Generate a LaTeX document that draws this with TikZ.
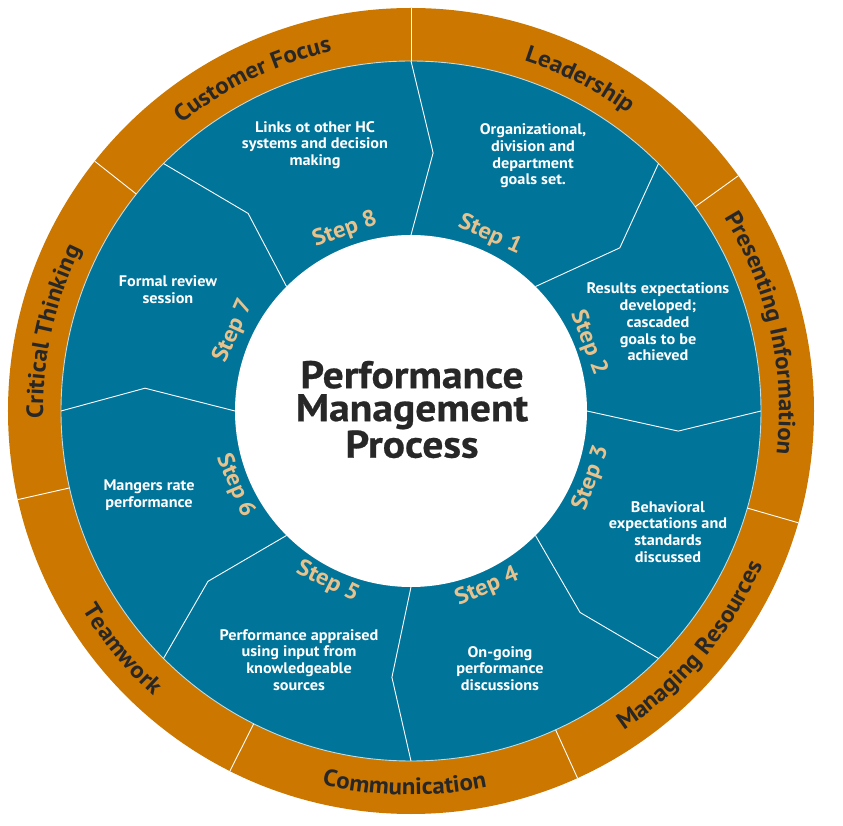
\documentclass[tikz,border=0pt]{standalone}
\usepackage{fontspec}
\setmainfont{PT Sans}[FakeStretch=1.06]
\newfontfamily\titlefont{PT Sans}[FakeStretch=1.08,BoldFeatures={FakeBold=0.6}]
\usetikzlibrary{decorations.text}
\definecolor{ringor}{HTML}{CB7700}
\definecolor{stepblue}{HTML}{007499}
\definecolor{steptan}{HTML}{E8C28C}
\definecolor{darktxt}{HTML}{272727}
\newcommand\ringfont{\bfseries\fontsize{23.5}{23.5}\selectfont}
\newcommand\toplabel[2]{\path[decorate,decoration={text along path,text align=center,text color=darktxt,text={|\ringfont|#2}}] ({#1+30}:368) arc[start angle={#1+30},end angle={#1-30},radius=368];}
\newcommand\botlabel[2]{\path[decorate,decoration={text along path,text align=center,text color=darktxt,text={|\ringfont|#2}}] ({#1-30}:384) arc[start angle={#1-30},end angle={#1+30},radius=384];}
\begin{document}
\begin{tikzpicture}[x=1pt,y=1pt,
  divline/.style={draw=white,line width=0.9pt},
  steplbl/.style={text=steptan,font=\bfseries\fontsize{23}{23}\selectfont,inner sep=0pt},
  bodytxt/.style={text=white,align=center,font=\bfseries\fontsize{15.3}{16.7}\selectfont,inner sep=0pt},
  titletxt/.style={text=darktxt,align=center,font=\titlefont\bfseries\fontsize{38.5}{33}\selectfont,inner sep=0pt}]
\useasboundingbox (-411,-415) rectangle (432,411);
% rings
\fill[ringor] (0,0) circle (403);
\fill[stepblue] (0,0) circle (350);
\draw[white!75!stepblue,line width=0.9pt] (0,0) circle (350);
\fill[white] (0,0) circle (176);
% step dividers
\draw[divline] (90:176) -- (85.1:259) -- (90:350);
\draw[divline] (45:176) -- (38:265) -- (45:350);
\draw[divline] (0:176) -- (-4.3:268) -- (0:350);
\draw[divline] (-45:176) -- (-50:263) -- (-45:350);
\draw[divline] (-90:176) -- (-94.1:267) -- (-90:350);
\draw[divline] (-135:176) -- (-140:265) -- (-135:350);
\draw[divline] (180:176) -- (175.1:267) -- (180:350);
\draw[divline] (135:176) -- (129.5:256) -- (135:350);
% ring dividers
\foreach \a in {90,35.7,-16.1,-65.6,-116.7,-167.3,141.7}
  \draw[divline] (\a:350) -- (\a:403);
% ring labels
\toplabel{115.5}{Customer Focus}
\toplabel{63}{Leadership}
\toplabel{12.5}{Presenting Information}
\toplabel{167.5}{Critical Thinking}
\botlabel{-40}{Managing Resources}
\botlabel{-91}{Communication}
\botlabel{-140.5}{Teamwork}
% step labels
\node[steplbl,rotate=20] (s8) at (110:193) {Step 8};
\node[steplbl,rotate=-24.2] (s1) at (65.8:193) {Step 1};
\node[steplbl,rotate=-69] (s2) at (21:190) {Step 2};
\node[steplbl,rotate=69.6] (s3) at (-20.4:192) {Step 3};
\node[steplbl,rotate=23.4] (s4) at (-66.6:192) {Step 4};
\node[steplbl,rotate=-26] (s5) at (-116:190) {Step 5};
\node[steplbl,rotate=-67] (s6) at (-157:191) {Step 6};
\node[steplbl,rotate=65.8] (s7) at (155.8:195) {Step 7};
% body texts
\node[bodytxt] (t8) at (-96,266) {Links ot other HC\\systems and decision\\making};
\node[bodytxt] (t1) at (122,255) {Organizational,\\division and\\department\\goals set.};
\node[bodytxt] (t2) at (247,89) {Results expectations\\developed;\\cascaded\\goals to be\\achieved};
\node[bodytxt] (t3) at (257,-121) {Behavioral\\expectations and\\standards\\discussed};
\node[bodytxt] (t4) at (89,-257.5) {On-going\\performance\\discussions};
\node[bodytxt] (t5) at (-112,-249) {Performance appraised\\using input from\\knowledgeable\\sources};
\node[bodytxt] (t6) at (-262,-84) {Mangers rate\\performance};
\node[bodytxt] (t7) at (-243,121) {Formal review\\session};
% title
\node[titletxt] (title) at (1,1.5) {Performance\\Management\\Process};
\end{tikzpicture}
\end{document}
